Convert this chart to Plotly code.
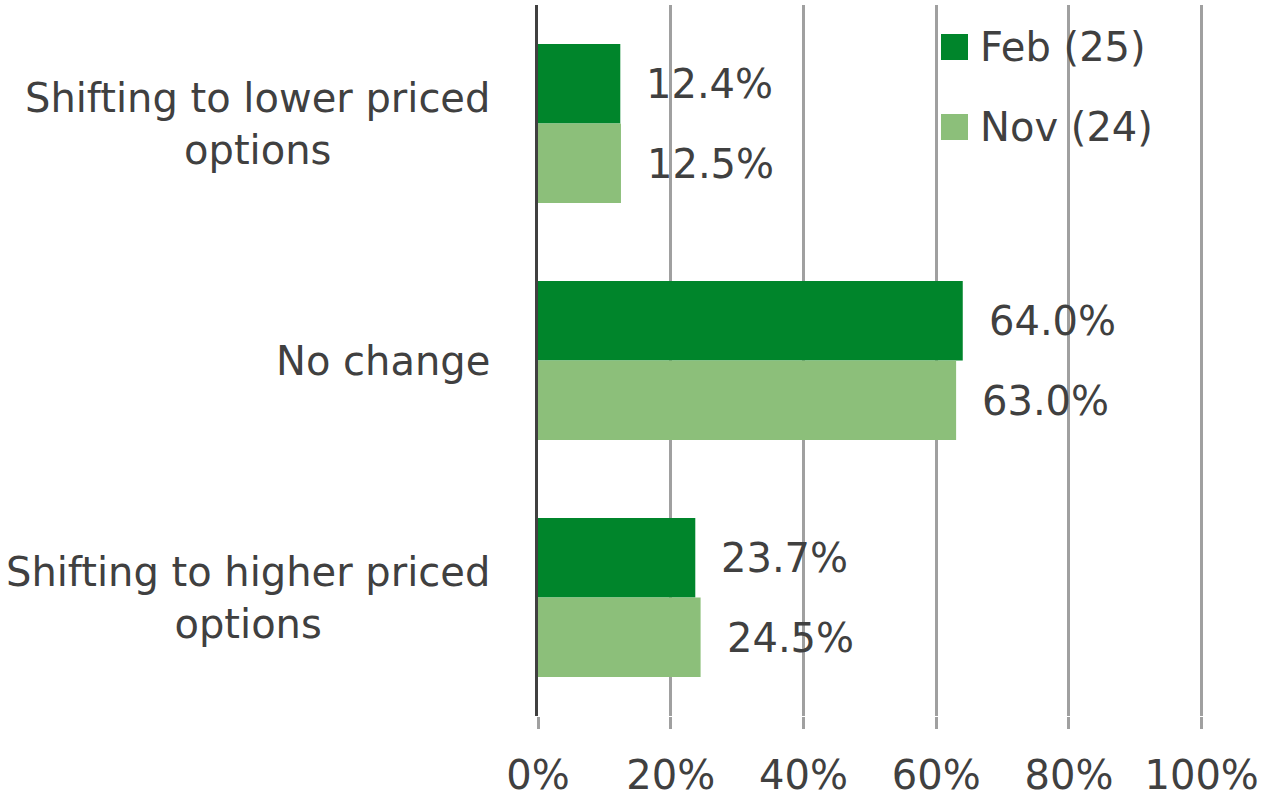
import plotly.graph_objects as go

categories = ["Shifting to lower priced<br>options", "No change", "Shifting to higher priced<br>options"]
series_names = ["Feb (25)", "Nov (24)"]
feb_values = [12.4, 64.0, 23.7]
nov_values = [12.5, 63.0, 24.5]
x_ticks = [0, 20, 40, 60, 80, 100]
x_tick_labels = ["0%", "20%", "40%", "60%", "80%", "100%"]

dark_green = "#00852B"
light_green = "#8CBF7A"
text_color = "#404040"
grid_color = "#A0A0A0"
font_family = "DejaVu Sans, Verdana, sans-serif"
fs = 40

W, H = 1262, 801
L, R, T, B = 538, 59, 5, 85
pw, ph = W - L - R, H - T - B

fig = go.Figure()
fig.add_trace(go.Bar(y=categories, x=feb_values, orientation="h", name=series_names[0],
                     marker=dict(color=dark_green, line=dict(width=0)), showlegend=False))
fig.add_trace(go.Bar(y=categories, x=nov_values, orientation="h", name=series_names[1],
                     marker=dict(color=light_green, line=dict(width=0)), showlegend=False))

annotations = []
for vals, shift in ((feb_values, 40), (nov_values, -40)):
    for cat, v in zip(categories, vals):
        annotations.append(dict(x=v, y=cat, xref="x", yref="y", text=f"{v:.1f}%",
                                showarrow=False, xanchor="left", yanchor="middle",
                                xshift=24, yshift=shift,
                                font=dict(size=fs, color=text_color, family=font_family)))

# category labels (centred multi-line, right edge 46px left of the axis)
for cat in categories:
    annotations.append(dict(x=-46 / pw, y=cat, xref="paper", yref="y", text=cat,
                            showarrow=False, xanchor="right", yanchor="middle", align="center",
                            font=dict(size=fs, color=text_color, family=font_family)))

# manual legend
legend_items = [(series_names[0], dark_green, 47), (series_names[1], light_green, 127)]
shapes = []
for name, col, ypix in legend_items:
    x0 = (941 - L) / pw
    x1 = (968 - L) / pw
    y_top = 1 - (ypix - 13 - T) / ph
    y_bot = 1 - (ypix + 13 - T) / ph
    shapes.append(dict(type="rect", xref="paper", yref="paper", x0=x0, x1=x1, y0=y_bot, y1=y_top,
                       fillcolor=col, line=dict(width=0), layer="above"))
    annotations.append(dict(x=(978 - L) / pw, y=1 - (ypix - T) / ph, xref="paper", yref="paper",
                            text=name, showarrow=False, xanchor="left", yanchor="middle",
                            font=dict(size=fs, color=text_color, family=font_family)))

fig.update_layout(
    width=W, height=H,
    margin=dict(l=L, r=R, t=T, b=B, pad=0, autoexpand=False),
    plot_bgcolor="white", paper_bgcolor="white",
    barmode="group", bargap=0.33, bargroupgap=0,
    font=dict(family=font_family, size=fs, color=text_color),
    annotations=annotations, shapes=shapes,
    showlegend=False,
)
fig.update_xaxes(range=[0, 100.2], tickvals=x_ticks, ticktext=x_tick_labels, automargin=False,
                 showgrid=True, gridcolor=grid_color, gridwidth=3, zeroline=False,
                 showline=False, ticks="outside", ticklen=12, tickcolor=grid_color, tickwidth=3,
                 ticklabelstandoff=12, tickfont=dict(size=fs, color=text_color))
fig.update_yaxes(autorange="reversed", showline=True, linecolor=text_color, linewidth=3,
                 showgrid=False, ticks="", showticklabels=False, automargin=False)

fig.write_html("out.html", config={"displayModeBar": False},
               post_script="document.body.style.margin='0';document.body.style.overflow='hidden';")
